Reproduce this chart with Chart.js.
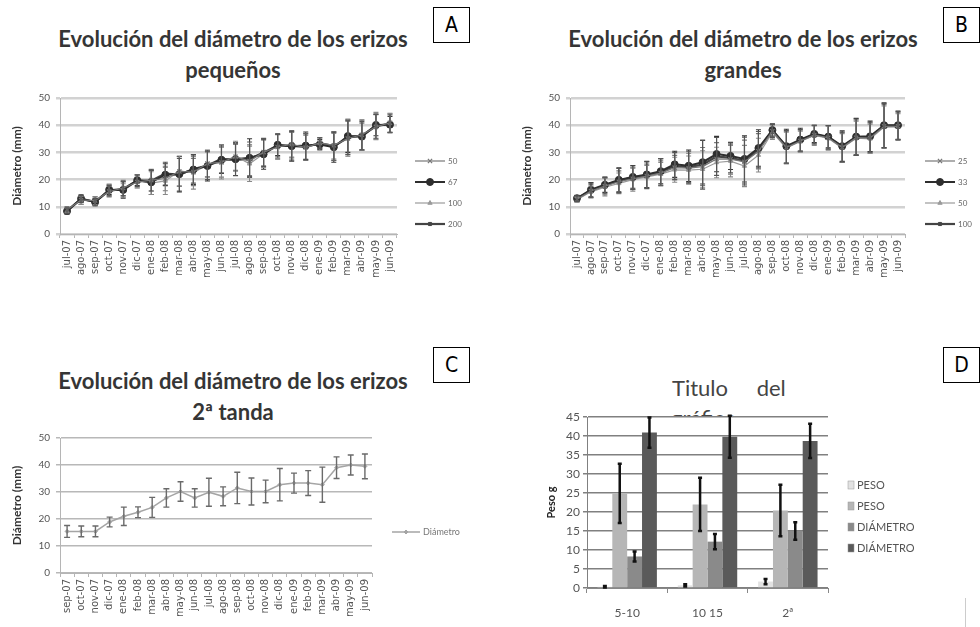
<!DOCTYPE html>
<html lang="es">
<head>
<meta charset="utf-8">
<title>Evolución del diámetro de los erizos</title>
<script src="https://cdn.jsdelivr.net/npm/chart.js@4.4.0/dist/chart.umd.min.js"></script>
<style>
  body { margin: 0; width: 980px; height: 627px; background: #fff; position: relative; overflow: hidden; font-family: Lato, "Open Sans", sans-serif; }
  canvas { position: absolute; }
  .titulo { position: absolute; width: 440px; text-align: center; font-weight: bold; font-size: 22px; line-height: 31px; color: #353535; white-space: nowrap; }
  .letra { position: absolute; width: 35px; height: 34px; border: 1.5px solid #000; background: #fff;
           font-family: "Liberation Sans Narrow", "DejaVu Sans Condensed", sans-serif; font-size: 21px; line-height: 34px; text-align: center; color: #000; }
  .tituloD { position: absolute; font-size: 22px; color: #444; white-space: pre; }
</style>
</head>
<body>

<div class="titulo" style="left:13px; top:23px;">Evolución del diámetro de los erizos<br>pequeños</div>
<div class="titulo" style="left:523px; top:23px;">Evolución del diámetro de los erizos<br>grandes</div>
<div class="titulo" style="left:13px; top:365px;">Evolución del diámetro de los erizos<br>2ª tanda</div>
<div class="tituloD" style="left:672px; top:375px; line-height:26px; word-spacing:23px;">Titulo del</div>
<div class="tituloD" style="left:671px; top:403px; height:13px; overflow:hidden; line-height:29px;">gráfico</div>

<canvas id="graficoA" width="470" height="220" style="left:0; top:85px;"></canvas>
<canvas id="graficoB" width="490" height="220" style="left:490px; top:85px;"></canvas>
<canvas id="graficoC" width="470" height="202" style="left:0; top:425px;"></canvas>
<canvas id="graficoD" width="490" height="247" style="left:490px; top:380px;"></canvas>

<div class="letra" style="left:433px; top:7px;">A</div>
<div class="letra" style="left:943px; top:7px;">B</div>
<div class="letra" style="left:433px; top:347px;">C</div>
<div class="letra" style="left:943px; top:347px;">D</div>
<div style="position:absolute; left:965px; top:598px; width:1px; height:29px; background:#ccc;"></div>

<script>
// Meses de muestreo
const mesesAB = ['jul-07', 'ago-07', 'sep-07', 'oct-07', 'nov-07', 'dic-07', 'ene-08', 'feb-08', 'mar-08', 'abr-08', 'may-08', 'jun-08',
                 'jul-08', 'ago-08', 'sep-08', 'oct-08', 'nov-08', 'dic-08', 'ene-09', 'feb-09', 'mar-09', 'abr-09', 'may-09', 'jun-09'];
const mesesC = ['sep-07', 'oct-07', 'nov-07', 'dic-07', 'ene-08', 'feb-08', 'mar-08', 'abr-08', 'may-08', 'jun-08', 'jul-08',
                'ago-08', 'sep-08', 'oct-08', 'nov-08', 'dic-08', 'ene-09', 'feb-09', 'mar-09', 'abr-09', 'may-09', 'jun-09'];

// Erizos pequeños (diámetro medio y desviación, mm)
const pequenos50  = [8.9, 12.5, 12.3, 15.6, 16.9, 19.1, 19.8, 20.4, 23.0, 22.8, 25.9, 26.4, 28.4, 26.8, 30.1, 32.0, 33.0, 31.8, 33.5, 32.6, 35.1, 36.5, 39.4, 40.9];
const errPeq50    = [1.2, 1.6, 1.5, 2.0, 2.8, 2.2, 4.0, 4.5, 5.5, 5.0, 5.0, 5.5, 5.0, 6.0, 5.0, 4.5, 5.0, 4.5, 2.0, 5.0, 6.5, 5.5, 4.5, 3.5];
const pequenos67  = [8.4, 13.0, 11.7, 16.3, 16.2, 19.8, 19.0, 21.8, 22.0, 23.7, 25.0, 27.3, 27.5, 28.0, 29.3, 32.8, 32.3, 32.5, 32.9, 31.9, 36.0, 35.8, 40.1, 40.2];
const errPeq67    = [1.0, 1.4, 1.3, 1.8, 3.0, 2.0, 4.5, 4.0, 6.5, 5.5, 5.5, 5.0, 6.0, 7.0, 5.5, 4.0, 5.5, 5.0, 1.8, 5.5, 6.0, 5.0, 4.0, 3.0];
const pequenos100 = [8.7, 12.4, 12.1, 16.2, 16.0, 19.4, 18.7, 19.5, 23.2, 22.5, 25.6, 26.2, 28.6, 25.8, 29.5, 32.2, 32.8, 32.0, 33.0, 32.0, 35.8, 36.3, 39.7, 40.7];
const errPeq100   = [0.9, 1.5, 1.6, 2.2, 2.5, 2.4, 4.2, 5.0, 5.5, 6.0, 4.5, 6.0, 5.5, 6.5, 5.0, 4.5, 4.5, 5.0, 2.2, 5.0, 6.5, 5.5, 5.0, 3.5];
const pequenos200 = [8.5, 12.9, 11.8, 15.9, 16.6, 19.6, 19.6, 22.2, 21.8, 23.9, 25.2, 27.6, 27.2, 27.6, 30.0, 32.5, 32.4, 32.0, 33.4, 32.3, 35.4, 36.2, 39.6, 40.6];
const errPeq200   = [1.1, 1.3, 1.4, 1.9, 2.6, 2.1, 3.8, 4.2, 6.0, 5.2, 5.2, 5.2, 5.8, 6.2, 5.2, 4.2, 5.2, 4.8, 2.0, 5.2, 6.2, 5.2, 4.4, 3.2];

// Erizos grandes
const grandes25  = [12.8, 15.8, 17.6, 19.2, 20.3, 21.3, 22.4, 24.4, 24.2, 24.8, 27.6, 27.5, 26.5, 30.4, 37.8, 31.8, 34.2, 36.4, 35.4, 31.8, 35.4, 35.3, 39.6, 39.6];
const errGr25    = [1.0, 2.4, 3.0, 4.0, 4.0, 4.4, 4.5, 4.5, 5.5, 7.0, 6.0, 5.5, 8.0, 6.5, 2.5, 6.0, 4.0, 3.4, 4.3, 5.5, 6.5, 5.5, 8.0, 5.0];
const grandes33  = [13.1, 16.3, 18.1, 19.9, 21.0, 21.9, 23.1, 25.6, 25.1, 26.4, 29.4, 28.7, 27.6, 31.6, 38.2, 32.3, 34.7, 36.8, 35.8, 32.3, 35.8, 35.9, 40.0, 40.0];
const errGr33    = [1.1, 2.6, 2.8, 4.4, 4.2, 4.8, 4.6, 4.8, 5.8, 8.0, 6.5, 5.0, 8.5, 6.7, 2.2, 6.2, 4.2, 3.2, 4.1, 5.6, 6.7, 5.6, 8.2, 5.2];
const grandes50  = [12.6, 15.5, 17.2, 18.6, 20.0, 21.0, 22.0, 23.6, 23.5, 23.8, 26.3, 26.8, 25.0, 29.0, 37.4, 31.6, 34.0, 36.2, 35.2, 31.6, 35.2, 35.0, 39.3, 39.4];
const errGr50    = [0.9, 2.2, 3.2, 3.8, 4.3, 4.2, 4.3, 4.6, 5.2, 6.8, 5.6, 5.8, 7.6, 6.2, 2.6, 5.8, 3.8, 3.6, 4.4, 5.3, 6.3, 5.4, 7.8, 4.8];
const grandes100 = [13.0, 16.0, 17.9, 19.6, 20.7, 21.6, 22.8, 25.0, 24.6, 25.5, 28.5, 28.0, 26.8, 31.0, 38.0, 32.0, 34.4, 36.6, 35.6, 32.0, 35.6, 35.6, 39.8, 39.8];
const errGr100   = [1.0, 2.7, 2.9, 4.5, 4.3, 4.9, 4.9, 4.9, 5.8, 9.0, 7.0, 5.5, 8.8, 6.7, 2.5, 6.0, 4.0, 3.4, 4.3, 5.5, 6.7, 5.5, 8.2, 5.2];

// Segunda tanda
const tanda2    = [15.4, 15.4, 15.4, 18.9, 21.0, 22.5, 24.3, 27.8, 30.2, 27.8, 29.9, 28.4, 31.5, 30.2, 30.2, 32.7, 33.3, 33.3, 32.7, 39.0, 40.0, 39.5];
const errTanda2 = [2.2, 2.0, 2.0, 1.8, 3.4, 2.0, 3.7, 3.4, 3.6, 3.4, 5.2, 3.5, 5.8, 5.0, 4.2, 6.0, 3.7, 4.6, 6.5, 4.0, 3.7, 4.6];

// Peso y diámetro por grupo de talla
const gruposD          = ['5-10', '10 15', '2ª'];
const pesoInicial      = [0.3, 0.7, 1.7];
const errPesoInicial   = [0.2, 0.3, 0.7];
const pesoFinal        = [24.9, 22.0, 20.4];
const errPesoFinal     = [7.8, 7.0, 6.8];
const diamInicial      = [8.3, 12.2, 15.0];
const errDiamInicial   = [1.3, 2.0, 2.3];
const diamFinal        = [40.9, 39.8, 38.7];
const errDiamFinal     = [4.0, 5.5, 4.5];

Chart.defaults.font.family = 'Lato, "Open Sans", sans-serif';
Chart.defaults.color = '#555';

// Barras de error verticales con tapa
const barrasError = {
  id: 'barrasError',
  afterDatasetsDraw(chart) {
    const ctx = chart.ctx;
    const ejeY = chart.scales.y;
    chart.data.datasets.forEach((ds, i) => {
      if (!ds.errores) return;
      const meta = chart.getDatasetMeta(i);
      ctx.save();
      ctx.strokeStyle = ds.colorError || '#555';
      ctx.lineWidth = ds.grosorError || 1;
      meta.data.forEach((el, j) => {
        const v = ds.data[j], e = ds.errores[j];
        if (v == null || e == null) return;
        const x = el.x;
        const yArr = ejeY.getPixelForValue(v + e);
        const yAb = ejeY.getPixelForValue(Math.max(v - e, 0));
        const t = ds.tapaError || 3;
        ctx.beginPath();
        ctx.moveTo(x, yArr); ctx.lineTo(x, yAb);
        ctx.moveTo(x - t, yArr); ctx.lineTo(x + t, yArr);
        ctx.moveTo(x - t, yAb); ctx.lineTo(x + t, yAb);
        ctx.stroke();
      });
      ctx.restore();
    });
  }
};

// Leyenda a la derecha del gráfico
const leyenda = {
  id: 'leyenda',
  afterDraw(chart, args, opts) {
    if (opts.x == null) return;
    const ctx = chart.ctx;
    ctx.save();
    ctx.font = opts.fuente;
    ctx.textBaseline = 'middle';
    chart.data.datasets.forEach((ds, i) => {
      const y = opts.y + i * opts.paso;
      let xTexto;
      if (opts.tipo === 'barra') {
        ctx.fillStyle = ds.backgroundColor;
        ctx.fillRect(opts.x, y - 4, 6, 8);
        ctx.strokeStyle = '#999';
        ctx.lineWidth = 0.5;
        ctx.strokeRect(opts.x, y - 4, 6, 8);
        xTexto = opts.x + 9;
      } else {
        ctx.strokeStyle = ds.borderColor;
        ctx.lineWidth = ds.borderWidth;
        ctx.beginPath();
        ctx.moveTo(opts.x, y);
        ctx.lineTo(opts.x + opts.largo, y);
        ctx.stroke();
        if (ds.pointRadius > 0) {
          ctx.fillStyle = ds.backgroundColor;
          ctx.lineWidth = ds.pointBorderWidth || 1;
          Chart.helpers.drawPoint(ctx, { pointStyle: ds.pointStyle, radius: ds.pointRadius, borderWidth: 1, rotation: 0 },
                                  opts.x + opts.largo / 2, y);
        }
        xTexto = opts.x + opts.largo + 3;
      }
      ctx.fillStyle = opts.colorTexto;
      ctx.fillText(ds.label, xTexto, y);
    });
    ctx.restore();
  }
};

Chart.register(barrasError, leyenda);

function opcionesLineas(c) {
  return {
    responsive: false,
    animation: false,
    layout: { padding: { top: c.arriba, right: c.derecha, left: 0, bottom: 0 } },
    plugins: {
      legend: { display: false },
      tooltip: { enabled: false },
      leyenda: c.leyenda
    },
    scales: {
      x: {
        offset: true,
        afterFit: s => { s.height = c.altoX; },
        grid: { offset: true, drawOnChartArea: false, tickLength: 4, color: '#b5b5b5' },
        border: { color: '#b5b5b5' },
        ticks: { autoSkip: false, minRotation: 90, maxRotation: 90, padding: 2, color: '#555',
                 font: { size: 10, family: '"DejaVu Sans", sans-serif' } }
      },
      y: {
        min: 0, max: 50,
        afterFit: s => { s.width = c.anchoY; },
        grid: { color: c.colorRejilla, lineWidth: c.grosorRejilla, tickLength: 4 },
        border: { color: '#b5b5b5' },
        ticks: { stepSize: 10, padding: 6, color: '#555', font: { size: 10 } },
        title: { display: true, text: 'Diámetro (mm)', color: '#333', font: { size: 12, weight: 'bold' },
                 padding: { top: c.padTitulo, bottom: 0 } }
      }
    }
  };
}

// Estilos de las cuatro densidades
const estilos = [
  { borderColor: '#777', backgroundColor: '#777', borderWidth: 1.2, pointStyle: 'crossRot', pointRadius: 3, pointBorderWidth: 1.2, colorError: '#777' },
  { borderColor: '#2e2e2e', backgroundColor: '#2e2e2e', borderWidth: 2, pointStyle: 'circle', pointRadius: 3.5, pointBorderWidth: 1, colorError: '#333' },
  { borderColor: '#9a9a9a', backgroundColor: '#9a9a9a', borderWidth: 1.2, pointStyle: 'triangle', pointRadius: 2.5, pointBorderWidth: 1, colorError: '#888' },
  { borderColor: '#444', backgroundColor: '#444', borderWidth: 2.2, pointStyle: 'rect', pointRadius: 2.2, pointBorderWidth: 1, colorError: '#555' }
];

function serie(etiqueta, datos, errores, estilo) {
  return Object.assign({ label: etiqueta, data: datos, errores: errores, fill: false, tension: 0, grosorError: 1.1, tapaError: 2.5 }, estilo);
}

// A: erizos pequeños
new Chart(document.getElementById('graficoA'), {
  type: 'line',
  data: {
    labels: mesesAB,
    datasets: [
      serie('50', pequenos50, errPeq50, estilos[0]),
      serie('67', pequenos67, errPeq67, estilos[1]),
      serie('100', pequenos100, errPeq100, estilos[2]),
      serie('200', pequenos200, errPeq200, estilos[3])
    ]
  },
  options: opcionesLineas({ arriba: 13, derecha: 73, altoX: 71, anchoY: 60, padTitulo: 10,
    colorRejilla: '#d2d2d2', grosorRejilla: 2.5,
    leyenda: { x: 415, y: 76, paso: 21, largo: 30, fuente: '8px Lato, sans-serif', colorTexto: '#666' } })
});

// B: erizos grandes
new Chart(document.getElementById('graficoB'), {
  type: 'line',
  data: {
    labels: mesesAB,
    datasets: [
      serie('25', grandes25, errGr25, estilos[0]),
      serie('33', grandes33, errGr33, estilos[1]),
      serie('50', grandes50, errGr50, estilos[2]),
      serie('100', grandes100, errGr100, estilos[3])
    ]
  },
  options: opcionesLineas({ arriba: 13, derecha: 75, altoX: 71, anchoY: 80, padTitulo: 30,
    colorRejilla: '#d2d2d2', grosorRejilla: 2.5,
    leyenda: { x: 435, y: 76, paso: 21, largo: 30, fuente: '8px Lato, sans-serif', colorTexto: '#666' } })
});

// C: segunda tanda
new Chart(document.getElementById('graficoC'), {
  type: 'line',
  data: {
    labels: mesesC,
    datasets: [
      serie('Diámetro', tanda2, errTanda2, { borderColor: '#a5a5a5', backgroundColor: '#a5a5a5', borderWidth: 1.5,
        pointStyle: 'rectRot', pointRadius: 2, pointBorderWidth: 1, colorError: '#6a6a6a', grosorError: 1.4, tapaError: 3 })
    ]
  },
  options: opcionesLineas({ arriba: 13, derecha: 98, altoX: 54, anchoY: 60, padTitulo: 10,
    colorRejilla: '#b8b8b8', grosorRejilla: 1.5,
    leyenda: { x: 392, y: 107, paso: 21, largo: 28, fuente: '9px Lato, sans-serif', colorTexto: '#777' } })
});

// D: peso y diámetro por talla
new Chart(document.getElementById('graficoD'), {
  type: 'bar',
  data: {
    labels: gruposD,
    datasets: [
      { label: 'PESO', data: pesoInicial, errores: errPesoInicial, backgroundColor: '#e2e2e2' },
      { label: 'PESO', data: pesoFinal, errores: errPesoFinal, backgroundColor: '#b6b6b6' },
      { label: 'DIÁMETRO', data: diamInicial, errores: errDiamInicial, backgroundColor: '#8a8a8a' },
      { label: 'DIÁMETRO', data: diamFinal, errores: errDiamFinal, backgroundColor: '#5a5a5a' }
    ].map(ds => Object.assign(ds, { colorError: '#111', grosorError: 2.5, tapaError: 2 }))
  },
  options: {
    responsive: false,
    animation: false,
    categoryPercentage: 0.74,
    barPercentage: 1,
    layout: { padding: { top: 37, right: 152, left: 0, bottom: 0 } },
    plugins: {
      legend: { display: false },
      tooltip: { enabled: false },
      leyenda: { tipo: 'barra', x: 358, y: 105, paso: 21, fuente: '11px Lato, sans-serif', colorTexto: '#555' }
    },
    scales: {
      x: {
        afterFit: s => { s.height = 39; },
        grid: { offset: true, drawOnChartArea: false, tickLength: 5, color: '#888' },
        border: { color: '#888' },
        ticks: { minRotation: 0, maxRotation: 0, padding: 13, color: '#555', font: { size: 12 } }
      },
      y: {
        min: 0, max: 45,
        afterFit: s => { s.width = 97; },
        grid: { color: '#808080', lineWidth: 1.5, tickLength: 4 },
        border: { color: '#808080' },
        ticks: { stepSize: 5, padding: 3, color: '#555', font: { size: 12 } },
        title: { display: true, text: 'Peso g', color: '#222', font: { size: 11, weight: 'bold' },
                 padding: { top: 55, bottom: 0 } }
      }
    }
  }
});
</script>
</body>
</html>
